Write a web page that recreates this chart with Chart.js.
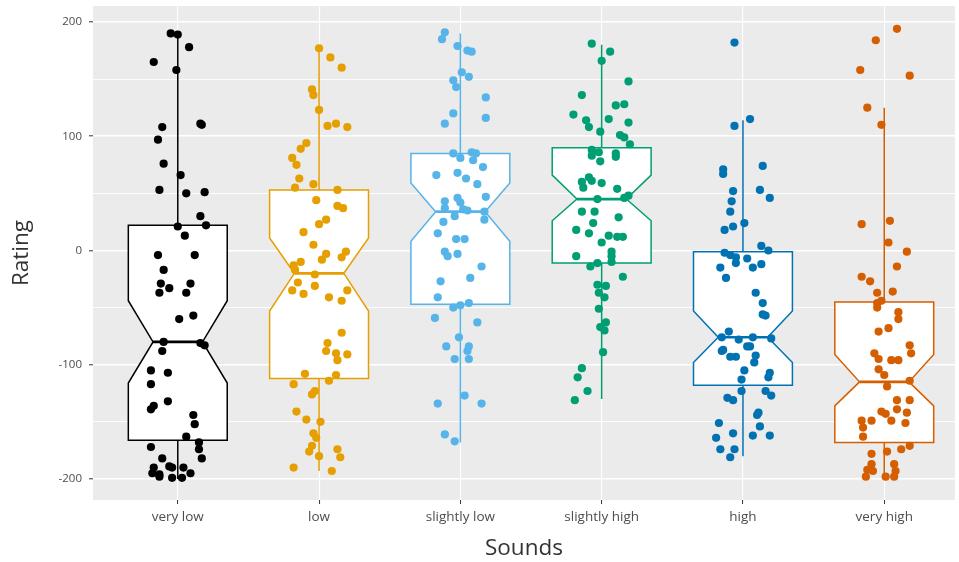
<!DOCTYPE html>
<html>
<head>
<meta charset="utf-8">
<script src="https://cdn.jsdelivr.net/npm/chart.js@4.4.1/dist/chart.umd.min.js"></script>
<style>
  html, body { margin: 0; padding: 0; background: #ffffff; overflow: hidden; }
  canvas { display: block; }
</style>
</head>
<body>
<canvas id="chart" width="959" height="562"></canvas>
<script>
// Sound categories along the x axis
const categories = ['very low', 'low', 'slightly low', 'slightly high', 'high', 'very high'];
const palette = ['#000000', '#E69F00', '#56B4E9', '#009E73', '#0072B2', '#D55E00'];

// Y axis ticks (major ones labelled, minor ones only get a grid line)
const yMajorTicks = [-200, -100, 0, 100, 200];
const yMinorTicks = [-150, -50, 50, 150];

// Box statistics per category
const whiskerLow    = [-200, -193, -168, -130, -180, -200];
const lowerQuartile = [-166, -112,  -47,  -11, -118, -168];
const notchLow      = [-116,  -53,    8,   26,  -98, -136];
const medianRating  = [ -80,  -20,   34,   45,  -76, -115];
const notchHigh     = [ -44,   11,   59,   66,  -53,  -91];
const upperQuartile = [  22,   53,   85,   90,   -1,  -45];
const whiskerHigh   = [ 190,  177,  190,  180,  114,  125];

// Individual ratings and their horizontal jitter (in category units)
const veryLowRating = [190,189,178,165,158,108,111,110,97,76,66,53,50,51,30,22,21,13,-4,-4,
  -17,-29,-33,-37,-29,-37,-60,-57,-80,-88,-81,-83,-105,-107,-117,-136,-139,-132,-144,-152,
  -163,-172,-168,-174,-182,-182,-190,-195,-196,-198,-189,-190,-190,-199,-199,-195];
const veryLowJitter = [-0.05,0,0.08,-0.17,-0.01,-0.11,0.16,0.17,-0.14,-0.10,0.02,-0.13,0.06,0.19,0.16,0.20,0,0.05,-0.14,0.12,
  -0.10,-0.12,-0.06,-0.13,0.09,0.06,0.01,0.11,-0.10,-0.11,0.16,0.19,-0.19,-0.07,-0.19,-0.17,-0.19,-0.07,0.11,0.12,
  0.06,-0.19,0.15,0.15,0.17,-0.11,-0.17,-0.18,-0.13,-0.13,-0.06,-0.04,0.04,-0.04,0.03,0.09];

const lowRating = [177,169,160,141,136,123,109,111,108,94,89,81,75,63,55,58,53,44,39,37,27,23,16,5,
  -3,-1,-8,-6,-10,-13,-17,-21,-28,-35,-38,-31,-41,-44,-35,-72,-81,-88,-90,-91,
  -96,-108,-109,-114,-117,-123,-126,-141,-148,-150,-160,-164,-171,-176,-174,-181,-180,-190,-193];
const lowJitter = [0,0.08,0.16,-0.05,-0.04,0,0.06,0.12,0.20,-0.09,-0.13,-0.19,-0.16,-0.14,-0.17,-0.04,0.13,-0.02,0.13,0.17,0.05,0,-0.11,-0.04,
  0.05,0.19,0.02,0.16,-0.13,-0.18,-0.17,-0.03,-0.15,-0.19,-0.11,-0.03,0.07,0.16,0.20,0.16,0.06,0.05,0.12,0.20,
  0.13,-0.10,0.12,0.07,-0.18,-0.03,-0.05,-0.16,-0.09,0.01,-0.04,-0.02,-0.05,-0.07,0.13,0.15,0,-0.18,0.09];

const slightlyLowRating = [191,185,179,175,174,156,152,149,143,134,120,116,111,85,81,86,85,79,73,66,
  68,63,58,47,46,43,42,37,36,35,34,30,27,25,15,10,10,
  -1,-5,-3,-14,-27,-24,-41,-50,-48,-46,-59,-63,-76,-84,-84,-88,-95,-95,-127,-134,-134,-161,-167];
const slightlyLowJitter = [-0.11,-0.13,-0.02,0.05,0.08,0.01,0.06,-0.05,-0.03,0.18,-0.05,0.18,-0.11,-0.05,0,0.08,0.11,0.09,0.16,-0.17,
  -0.02,0.04,0.12,0.18,-0.02,-0.11,0,-0.11,0.02,0.05,0.17,-0.04,0.17,-0.12,-0.16,-0.03,0.03,
  -0.11,-0.09,-0.02,0.15,-0.14,0.07,-0.16,-0.05,0,0.06,-0.18,0.12,-0.01,-0.10,0.06,0.05,-0.04,0.06,0.03,-0.16,0.15,-0.11,-0.04];

const slightlyHighRating = [181,174,166,148,136,127,128,119,114,115,108,112,104,101,99,93,88,86,83,78,
  85,82,64,60,55,61,59,54,48,46,45,34,34,29,24,18,15,13,12,12,7,
  -1,-5,-10,-5,-14,-11,-23,-30,-31,-37,-41,-51,-63,-67,-70,-89,-103,-111,-123,-131];
const slightlyHighJitter = [-0.07,0.06,0,0.19,-0.14,0.10,0.16,-0.20,-0.11,0.05,-0.09,0.19,-0.01,0.13,0.16,0.20,-0.07,-0.02,-0.07,-0.01,
  0.10,0.10,-0.09,-0.14,-0.13,-0.07,0,0.11,0.19,0.16,-0.03,-0.14,-0.05,0.12,-0.06,-0.18,-0.09,0.05,0.11,0.15,0,
  0.07,0.07,0.07,-0.18,-0.08,-0.03,0.15,-0.03,0.03,-0.02,0.02,-0.02,0.03,-0.01,0.02,0.01,-0.14,-0.17,-0.10,-0.19];

const highRating = [182,115,109,71,67,74,52,53,43,46,34,24,18,21,4,
  -2,0,-4,-6,-7,-11,-15,-15,-12,-24,-37,-46,-56,-57,-71,-76,-78,-76,-77,-84,-84,-87,-88,-93,-93,
  -92,-98,-105,-107,-111,-113,-123,-123,-127,-129,-131,-142,-144,-154,-151,-160,-164,-162,-162,-174,-174,-181];
const highJitter = [-0.06,0.05,-0.06,-0.14,-0.14,0.14,-0.07,0.12,-0.08,0.19,-0.09,0.01,-0.13,-0.07,0.13,
  -0.13,0.18,-0.09,-0.05,0.03,-0.05,-0.16,0.07,0.13,-0.12,0.09,0.14,0.14,0.16,-0.10,-0.15,-0.03,0.07,0.20,0.05,0.03,-0.14,-0.15,-0.09,-0.05,
  0.09,0.08,0.01,0.19,0.18,-0.01,-0.01,0.16,0.20,-0.11,-0.07,0.11,0.10,0.12,-0.17,-0.07,-0.19,0.07,0.19,-0.16,-0.06,-0.09];

const veryHighRating = [194,184,158,153,125,110,23,26,7,
  -1,-14,-23,-27,-37,-36,-46,-44,-50,-54,-60,-71,-68,-83,-90,-90,-95,-96,-96,-104,
  -109,-114,-119,-131,-131,-141,-143,-139,-142,-149,-149,-149,-151,-155,-163,-174,-171,-178,-176,-187,
  -192,-193,-198,-187,-193,-198,-198];
const veryHighJitter = [0.09,-0.06,-0.17,0.18,-0.12,-0.02,-0.16,0.04,0.03,
  0.16,0.09,-0.16,-0.10,-0.05,0.06,-0.05,-0.02,-0.05,0.10,0.10,-0.04,0.03,0.18,0.19,-0.07,-0.04,0.05,0.10,-0.04,
  0,0.18,0.02,0.09,0.18,-0.02,0.01,0.09,0.16,-0.09,0.05,-0.16,0.15,-0.15,-0.15,0.12,0.18,-0.09,0.02,-0.09,
  -0.12,-0.08,-0.13,0.07,0.08,0.01,0.07];

const pointSets = [
  [veryLowRating, veryLowJitter],
  [lowRating, lowJitter],
  [slightlyLowRating, slightlyLowJitter],
  [slightlyHighRating, slightlyHighJitter],
  [highRating, highJitter],
  [veryHighRating, veryHighJitter]
];

const datasets = pointSets.map(([ratings, jitter], i) => ({
  label: categories[i],
  data: ratings.map((r, k) => ({ x: i + 1 + jitter[k], y: r })),
  backgroundColor: palette[i],
  borderWidth: 0,
  pointRadius: 4.1,
  pointHoverRadius: 4.1
}));

const BOX_WIDTH = 0.7;

// Grey panel behind the plot
const panelBackground = {
  id: 'panelBackground',
  beforeDraw(chart) {
    const { ctx, chartArea: a } = chart;
    ctx.save();
    ctx.fillStyle = '#EBEBEB';
    ctx.fillRect(a.left, a.top, a.right - a.left, a.bottom - a.top);
    ctx.restore();
  }
};

// Notched box plots, drawn under the jittered points
const notchedBoxes = {
  id: 'notchedBoxes',
  beforeDatasetsDraw(chart) {
    const { ctx, scales: { x, y } } = chart;
    ctx.save();
    categories.forEach((c, i) => {
      const cx = x.getPixelForValue(i + 1);
      const half = x.getPixelForValue(i + 1 + BOX_WIDTH / 2) - cx;
      const l = cx - half, r = cx + half;
      const nl = cx - half / 2, nr = cx + half / 2;
      const yQ1 = y.getPixelForValue(lowerQuartile[i]);
      const yQ3 = y.getPixelForValue(upperQuartile[i]);
      const yNL = y.getPixelForValue(notchLow[i]);
      const yNH = y.getPixelForValue(notchHigh[i]);
      const yMed = y.getPixelForValue(medianRating[i]);
      const yWL = y.getPixelForValue(whiskerLow[i]);
      const yWH = y.getPixelForValue(whiskerHigh[i]);

      ctx.strokeStyle = palette[i];
      ctx.lineWidth = 1.5;
      ctx.lineJoin = 'miter';

      // whiskers
      ctx.beginPath();
      ctx.moveTo(cx, yQ3); ctx.lineTo(cx, yWH);
      ctx.moveTo(cx, yQ1); ctx.lineTo(cx, yWL);
      ctx.stroke();

      // notched box outline
      ctx.beginPath();
      ctx.moveTo(l, yQ3);
      ctx.lineTo(r, yQ3);
      ctx.lineTo(r, yNH);
      ctx.lineTo(nr, yMed);
      ctx.lineTo(r, yNL);
      ctx.lineTo(r, yQ1);
      ctx.lineTo(l, yQ1);
      ctx.lineTo(l, yNL);
      ctx.lineTo(nl, yMed);
      ctx.lineTo(l, yNH);
      ctx.closePath();
      ctx.fillStyle = '#FFFFFF';
      ctx.fill();
      ctx.stroke();

      // median
      ctx.lineWidth = 2.6;
      ctx.beginPath();
      ctx.moveTo(nl, yMed); ctx.lineTo(nr, yMed);
      ctx.stroke();
    });
    ctx.restore();
  }
};

const family = "'Open Sans', 'Noto Sans', sans-serif";

new Chart(document.getElementById('chart'), {
  type: 'scatter',
  data: { datasets },
  options: {
    responsive: false,
    animation: false,
    devicePixelRatio: 1,
    layout: { padding: { top: 6, right: 0, left: 0, bottom: 0 } },
    plugins: {
      legend: { display: false },
      tooltip: { enabled: false }
    },
    scales: {
      x: {
        type: 'linear',
        min: 0.4,
        max: 6.5,
        afterFit(scale) { scale.height = 62; scale.paddingLeft = 0; scale.paddingRight = 0; },
        afterBuildTicks(scale) { scale.ticks = categories.map((c, i) => ({ value: i + 1 })); },
        ticks: {
          autoSkip: false,
          maxRotation: 0,
          padding: 5,
          color: '#4D4D4D',
          font: { family, size: 13.5 },
          callback: (v) => categories[v - 1]
        },
        grid: {
          color: '#FFFFFF',
          lineWidth: 1.1,
          drawTicks: true,
          tickLength: 4,
          tickColor: '#333333',
          tickWidth: 1
        },
        border: { display: false },
        title: {
          display: true,
          text: 'Sounds',
          color: '#333333',
          font: { family, size: 22.5 },
          padding: { top: 0, bottom: 0 }
        }
      },
      y: {
        min: -218.4,
        max: 214,
        afterFit(scale) { scale.width = 93; scale.paddingTop = 0; scale.paddingBottom = 0; },
        afterBuildTicks(scale) {
          scale.ticks = yMajorTicks.concat(yMinorTicks).sort((a, b) => a - b).map(v => ({ value: v }));
        },
        ticks: {
          padding: 7,
          color: '#4D4D4D',
          font: { family, size: 11.5 },
          callback: (v) => (yMajorTicks.includes(v) ? String(v) : '')
        },
        grid: {
          color: '#FFFFFF',
          lineWidth: (c) => (yMajorTicks.includes(c.tick && c.tick.value) ? 1.6 : 0.9),
          drawTicks: true,
          tickLength: 4,
          tickColor: (c) => (yMajorTicks.includes(c.tick && c.tick.value) ? '#333333' : 'rgba(0,0,0,0)'),
          tickWidth: 1
        },
        border: { display: false },
        title: {
          display: true,
          text: 'Rating',
          color: '#333333',
          font: { family, size: 22.5 },
          padding: { top: 8.5, bottom: 0 }
        }
      }
    }
  },
  plugins: [panelBackground, notchedBoxes]
});
</script>
</body>
</html>
